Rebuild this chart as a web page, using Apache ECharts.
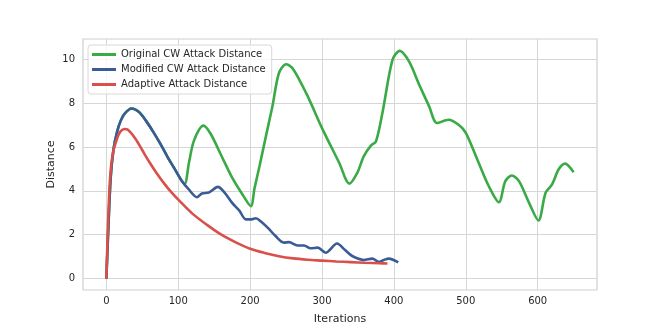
<!DOCTYPE html>
<html>
<head>
<meta charset="utf-8">
<script src="https://cdn.jsdelivr.net/npm/echarts@6/dist/echarts.min.js"></script>
<style>
  html, body { margin: 0; padding: 0; background: #fff; }
  #chart { width: 664px; height: 332px; }
</style>
</head>
<body>
<div id="chart"></div>
<script>
// values: [iteration, distance]
const originalCW = [
  [0, 0], [3, 2.5], [6, 4.6], [10, 5.9], [15, 6.7], [20, 7.2], [25, 7.5], [35, 7.75],
  [45, 7.6], [55, 7.2], [65, 6.7], [75, 6.15], [85, 5.55], [95, 5.0], [104, 4.5],
  [109, 4.32], [115, 5.3], [122, 6.3], [135, 6.97], [145, 6.6], [160, 5.6], [175, 4.6],
  [190, 3.8], [201, 3.3], [206, 4.1], [213, 5.12], [222, 6.5], [231, 7.85], [240, 9.36],
  [250, 9.77], [259, 9.59], [278, 8.45], [301, 6.79], [324, 5.27], [338, 4.33],
  [349, 4.82], [358, 5.57], [368, 6.06], [375, 6.25], [384, 7.55], [398, 9.97],
  [408, 10.38], [421, 9.9], [435, 8.85], [449, 7.85], [460, 7.09], [476, 7.24],
  [490, 7.01], [500, 6.64], [518, 5.27], [532, 4.21], [546, 3.48], [555, 4.44],
  [564, 4.7], [574, 4.44], [588, 3.45], [601, 2.65], [611, 3.91], [620, 4.29],
  [629, 4.97], [638, 5.24], [650, 4.85]
];
const modifiedCW = [
  [0, 0], [3, 2.5], [6, 4.6], [10, 5.9], [15, 6.7], [20, 7.2], [25, 7.5], [35, 7.75],
  [45, 7.6], [55, 7.2], [65, 6.7], [75, 6.15], [85, 5.55], [95, 5.0], [105, 4.45],
  [115, 4.05], [126, 3.71], [133, 3.88], [143, 3.93], [155, 4.18], [165, 3.9],
  [175, 3.45], [185, 3.1], [194, 2.7], [202, 2.7], [208, 2.75], [215, 2.6], [225, 2.3],
  [235, 1.95], [247, 1.64], [254, 1.66], [266, 1.51], [275, 1.51], [284, 1.38],
  [294, 1.41], [305, 1.18], [321, 1.6], [332, 1.3], [342, 1.03], [358, 0.85],
  [370, 0.91], [379, 0.76], [386, 0.85], [393, 0.91], [406, 0.74]
];
const adaptive = [
  [0, 0], [2, 2.2], [5, 4.5], [9, 5.7], [16, 6.48], [20, 6.72], [25, 6.82], [30, 6.78],
  [40, 6.4], [50, 5.85], [60, 5.3], [70, 4.8], [80, 4.35], [90, 3.95], [100, 3.6],
  [120, 2.95], [140, 2.45], [160, 2.0], [180, 1.65], [200, 1.36], [220, 1.17],
  [240, 1.02], [260, 0.92], [280, 0.86], [300, 0.82], [320, 0.78], [340, 0.75],
  [360, 0.72], [380, 0.7], [391, 0.69]
];
const xTicks = [0, 100, 200, 300, 400, 500, 600];
const yTicks = [0, 2, 4, 6, 8, 10];
const seriesNames = ['Original CW Attack Distance', 'Modified CW Attack Distance', 'Adaptive Attack Distance'];
const COLORS = ['#3aaa47', '#3a5b96', '#d9504a'];

const FONT = 'DejaVu Sans';
const TEXT = '#262626';
const GRID = '#d6d6d6';

const chart = echarts.init(document.getElementById('chart'), null, { renderer: 'canvas' });

const mkSeries = (name, data, i) => ({
  name,
  type: 'line',
  data,
  showSymbol: false,
  smooth: 0.3,
  lineStyle: { color: COLORS[i], width: 2.6 },
  itemStyle: { color: COLORS[i] },
  z: 2 + i,
  animation: false
});

chart.setOption({
  animation: false,
  backgroundColor: '#fff',
  textStyle: { fontFamily: FONT },
  grid: {
    left: 83, right: 67, top: 39, bottom: 42,
    show: true, borderColor: '#cfcfcf', borderWidth: 1.2, backgroundColor: 'transparent'
  },
  legend: {
    orient: 'vertical',
    left: 88, top: 45,
    icon: 'rect',
    itemWidth: 24, itemHeight: 3,
    itemGap: 2,
    padding: [3, 6, 3, 4],
    borderColor: '#d8d8d8', borderWidth: 1, borderRadius: 3,
    backgroundColor: 'rgba(255,255,255,0.8)',
    textStyle: { fontFamily: FONT, fontSize: 10, color: TEXT, lineHeight: 13 },
    data: seriesNames
  },
  xAxis: {
    type: 'value',
    min: -32.5, max: 682.5,
    name: 'Iterations', nameLocation: 'middle', nameGap: 24, nameMoveOverlap: false,
    nameTextStyle: { fontFamily: FONT, fontSize: 11, color: TEXT },
    axisLine: { show: false },
    axisTick: { show: false, customValues: xTicks },
    axisLabel: { customValues: xTicks, fontFamily: FONT, fontSize: 10, color: TEXT, margin: 6 },
    splitLine: { show: true, lineStyle: { color: GRID, width: 1 } }
  },
  yAxis: {
    type: 'value',
    min: -0.52, max: 10.92,
    name: 'Distance', nameLocation: 'middle', nameGap: 26, nameMoveOverlap: false,
    nameTextStyle: { fontFamily: FONT, fontSize: 11, color: TEXT },
    axisLine: { show: false },
    axisTick: { show: false, customValues: yTicks },
    axisLabel: { customValues: yTicks, fontFamily: FONT, fontSize: 10, color: TEXT, margin: 8 },
    splitLine: { show: true, lineStyle: { color: GRID, width: 1 } }
  },
  series: [
    mkSeries(seriesNames[0], originalCW, 0),
    mkSeries(seriesNames[1], modifiedCW, 1),
    mkSeries(seriesNames[2], adaptive, 2)
  ]
});
</script>
</body>
</html>
